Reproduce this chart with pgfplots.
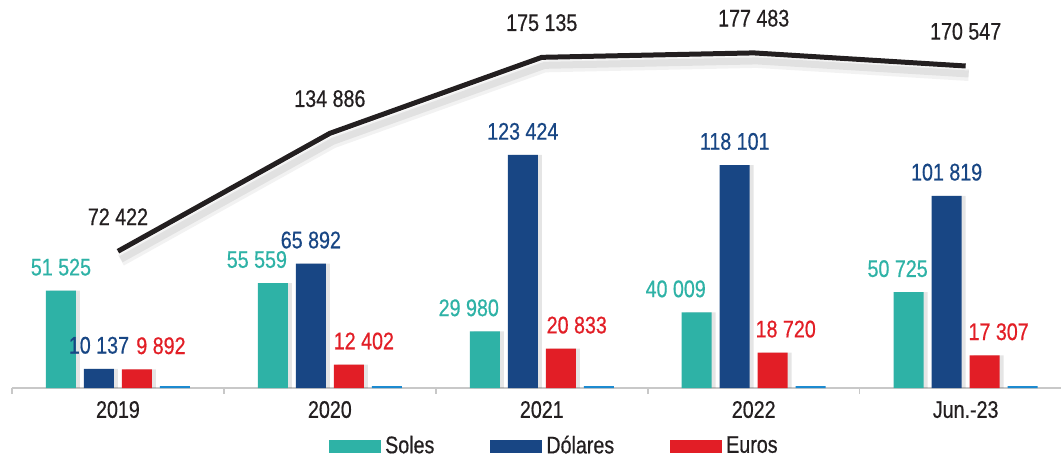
\documentclass[border=0pt]{standalone}
\usepackage{fontspec}
\setmainfont[FakeStretch=0.82, FakeBold=0.6]{Liberation Sans}
\usepackage{pgfplots}
\pgfplotsset{compat=1.18}
\usepackage{pgfplotstable}

\definecolor{soles}{RGB}{46,178,166}
\definecolor{dolares}{RGB}{24,70,132}
\definecolor{euros}{RGB}{226,30,38}
\definecolor{otros}{RGB}{28,138,208}
\definecolor{txt}{RGB}{35,31,32}
\definecolor{axisgray}{RGB}{200,200,200}

\pgfplotstableread{
x y dx
0 51525 0
1 55559 -8
2 29980 -8
3 40009 -10.5
4 50725 -5.5
}\soles
\pgfplotstableread{
x y dx
0 10137 0
1 65892 0
2 123424 0
3 118101 0
4 101819 0
}\dolares
\pgfplotstableread{
x y dx
0 9892 12
1 12402 7.5
2 20833 8
3 18720 6.5
4 17307 7
}\euros
\pgfplotstableread{
x y
0 1000
1 1000
2 1000
3 1000
4 1000
}\otros
\pgfplotstableread{
x y
0 72422
1 134886
2 175135
3 177483
4 170547
}\total

\newcommand{\lblfont}{\fontsize{12}{14}\selectfont}
\newcommand{\prnum}[1]{\pgfmathprintnumber[fixed, precision=0, assume math mode=true, 1000 sep={\ }]{#1}}

\begin{document}
\begin{tikzpicture}
\begin{axis}[
  scale only axis, width=524.5pt, height=194pt,
  xmin=-0.5, xmax=4.45, ymin=0, ymax=205500,
  axis x line*=bottom, hide y axis,
  x axis line style={axisgray, line width=0.8pt, -},
  xtick={0,...,4}, xticklabels={2019,2020,2021,2022,Jun.-23},
  major tick length=0pt,
  minor xtick={-0.5,0.5,1.5,2.5,3.5},
  minor tick length=3pt, tick align=outside,
  minor tick style={axisgray, line width=0.8pt},
  xticklabel style={font=\lblfont, text=txt, yshift=-3pt},
  clip=false,
  legend columns=3,
  legend style={at={(0.518,-0.1495)}, anchor=center, draw=none, fill=none,
    font=\lblfont, text=txt, inner sep=0pt,
    /tikz/every even column/.append style={column sep=26pt}},
  legend image code/.code={\fill[#1] (0pt,-3.25pt) rectangle (26pt,3.25pt);},
  lbl/.style={nodes near coords={\prnum{\pgfplotspointmeta}},
    every node near coord/.append style={font=\lblfont, text=#1, yshift=4pt}},
  shad/.style={ybar, bar width=15pt, fill=black, fill opacity=0.10, draw=none, forget plot, xshift=2pt},
]
\addlegendimage{fill=soles, draw=none}
\addlegendentry{Soles}
\addlegendimage{fill=dolares, draw=none}
\addlegendentry{Dólares}
\addlegendimage{fill=euros, draw=none}
\addlegendentry{Euros}
% soft shadows
\addplot[shad, bar shift=-28.5pt] table[x=x,y=y]{\soles};
\addplot[shad, bar shift=-9.5pt] table[x=x,y=y]{\dolares};
\addplot[shad, bar shift=9.5pt] table[x=x,y=y]{\euros};
\addplot[line width=6pt, black, opacity=0.05, mark=none, forget plot, xshift=1.5pt, yshift=-4.5pt] table[x=x,y=y]{\total};
\addplot[line width=3.5pt, black, opacity=0.07, mark=none, forget plot, xshift=1.5pt, yshift=-4pt] table[x=x,y=y]{\total};
% bars
\addplot[ybar, bar width=15pt, bar shift=-28.5pt, fill=soles, draw=none, lbl=soles, forget plot,
  visualization depends on={\thisrow{dx}\as\ldx},
  every node near coord/.append style={xshift=\ldx*1pt-28.5pt}] table[x=x,y=y]{\soles};
\addplot[ybar, bar width=15pt, bar shift=-9.5pt, fill=dolares, draw=none, lbl=dolares, forget plot,
  visualization depends on={\thisrow{dx}\as\ldx},
  every node near coord/.append style={xshift=\ldx*1pt-9.5pt}] table[x=x,y=y]{\dolares};
\addplot[ybar, bar width=15pt, bar shift=9.5pt, fill=euros, draw=none, lbl=euros, forget plot,
  visualization depends on={\thisrow{dx}\as\ldx},
  every node near coord/.append style={xshift=\ldx*1pt+9.5pt}] table[x=x,y=y]{\euros};
\addplot[ybar, bar width=15pt, bar shift=28.5pt, fill=otros, draw=none, forget plot] table[x=x,y=y]{\otros};
\addplot[line width=2.5pt, color=txt, mark=none, forget plot,
  nodes near coords={\prnum{\pgfplotspointmeta}},
  every node near coord/.append style={font=\lblfont, text=txt, yshift=8.5pt}] table[x=x,y=y]{\total};
\end{axis}
\pgfresetboundingbox
\path[use as bounding box] (-6pt,-34pt) rectangle (525pt,194pt);
\end{tikzpicture}
\end{document}
